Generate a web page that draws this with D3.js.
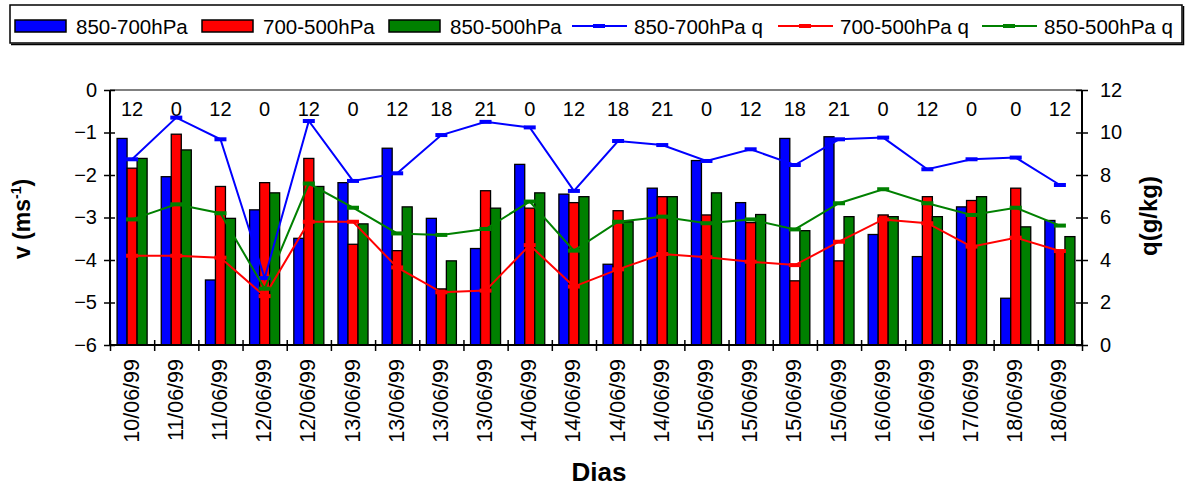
<!DOCTYPE html>
<html>
<head>
<meta charset="utf-8">
<script src="https://cdn.jsdelivr.net/npm/d3@7"></script>
<style>
  body { margin: 0; background: #fff; }
  text { font-family: "Liberation Sans", Arial, sans-serif; }
</style>
</head>
<body>
<div id="chart-area"></div>
<script>
// Data -------------------------------------------------
const dias = ["10/06/99","11/06/99","11/06/99","12/06/99","12/06/99","13/06/99","13/06/99","13/06/99","13/06/99",
  "14/06/99","14/06/99","14/06/99","14/06/99","15/06/99","15/06/99","15/06/99","15/06/99","16/06/99","16/06/99",
  "17/06/99","18/06/99","18/06/99"]
const horas = [12,0,12,0,12,0,12,18,21,0,12,18,21,0,12,18,21,0,12,0,0,12]

// v (ms-1), bars
const v850_700 = [-1.14,-2.04,-4.47,-2.82,-3.49,-2.18,-1.37,-3.02,-3.73,-1.75,-2.45,-4.10,-2.31,-1.66,-2.65,-1.14,-1.10,-3.40,-3.92,-2.75,-4.90,-3.07]
const v700_500 = [-1.84,-1.04,-2.27,-2.18,-1.61,-3.63,-3.78,-4.68,-2.37,-2.78,-2.65,-2.84,-2.51,-2.94,-3.12,-4.49,-4.02,-2.94,-2.51,-2.60,-2.31,-3.80]
const v850_500 = [-1.61,-1.41,-3.02,-2.42,-2.27,-3.15,-2.75,-4.02,-2.78,-2.42,-2.51,-3.10,-2.51,-2.42,-2.93,-3.31,-2.98,-2.98,-2.98,-2.51,-3.22,-3.45]

// q (g/kg), lines
const q850_700 = [8.74,10.70,9.68,3.15,10.54,7.72,8.08,9.88,10.50,10.24,7.25,9.60,9.41,8.66,9.21,8.47,9.68,9.76,8.27,8.74,8.82,7.53]
const q700_500 = [4.20,4.20,4.11,2.30,5.80,5.80,3.65,2.48,2.56,4.70,2.75,3.56,4.28,4.13,3.92,3.76,4.86,5.91,5.73,4.63,5.05,4.42]
const q850_500 = [5.91,6.62,6.20,2.65,7.60,6.46,5.25,5.18,5.46,6.75,4.44,5.80,6.04,5.73,5.91,5.44,6.67,7.33,6.67,6.12,6.46,5.62]

const vTicks = [0,-1,-2,-3,-4,-5,-6]
const qTicks = [0,2,4,6,8,10,12]

const barSeries = [
  {name: "850-700hPa", values: v850_700, color: "#0000ff"},
  {name: "700-500hPa", values: v700_500, color: "#ff0000"},
  {name: "850-500hPa", values: v850_500, color: "#008000"}
]
const lineSeries = [
  {name: "850-700hPa q", values: q850_700, color: "#0000ff"},
  {name: "700-500hPa q", values: q700_500, color: "#ff0000"},
  {name: "850-500hPa q", values: q850_500, color: "#008000"}
]

// Canvas setup -----------------------------------------
const WIDTH = 1190, HEIGHT = 489
const PLOT = {LEFT: 110, RIGHT: 1082, TOP: 90, BOTTOM: 345}

const svg = d3.select("#chart-area").append("svg")
  .attr("width", WIDTH)
  .attr("height", HEIGHT)

// Scales
const x = d3.scaleBand()
  .domain(d3.range(dias.length))
  .range([PLOT.LEFT, PLOT.RIGHT])
  .padding(0)

const x1 = d3.scaleBand()
  .domain(barSeries.map(d => d.name))
  .range([x.bandwidth() * 0.16, x.bandwidth() * 0.84])
  .padding(0)

const yLeft = d3.scaleLinear().domain([-6, 0]).range([PLOT.BOTTOM, PLOT.TOP])
const yRight = d3.scaleLinear().domain([0, 12]).range([PLOT.BOTTOM, PLOT.TOP])

// top border of plot area
svg.append("line")
  .attr("x1", PLOT.LEFT).attr("x2", PLOT.RIGHT)
  .attr("y1", PLOT.TOP).attr("y2", PLOT.TOP)
  .attr("stroke", "#808080").attr("stroke-width", 2)

// Bars ---
const groups = svg.append("g").selectAll("g")
  .data(barSeries)
  .join("g")
    .attr("fill", d => d.color)

groups.selectAll("rect")
  .data(s => s.values.map((v, i) => ({i: i, v: v, name: s.name})))
  .join("rect")
    .attr("x", d => x(d.i) + x1(d.name))
    .attr("y", d => yLeft(d.v))
    .attr("width", x1.bandwidth())
    .attr("height", d => yLeft(-6) - yLeft(d.v))
    .attr("stroke", "black")
    .attr("stroke-width", 1.3)

// Axes ---
const leftAxis = svg.append("g")
  .attr("transform", `translate(${PLOT.LEFT},0)`)
  .call(d3.axisLeft(yLeft).tickValues(vTicks).tickFormat(d3.format("d")).tickSize(5).tickPadding(8))
const rightAxis = svg.append("g")
  .attr("transform", `translate(${PLOT.RIGHT},0)`)
  .call(d3.axisRight(yRight).tickValues(qTicks).tickFormat(d3.format("d")).tickSize(5).tickPadding(13))

const xb = d3.scaleLinear().domain([0, dias.length]).range([PLOT.LEFT, PLOT.RIGHT])
const bottomAxis = svg.append("g")
  .attr("transform", `translate(0,${PLOT.BOTTOM})`)
  .call(d3.axisBottom(xb).tickValues(d3.range(dias.length + 1)).tickFormat("").tickSize(5))

for (const ax of [leftAxis, rightAxis, bottomAxis]) {
  ax.select(".domain").attr("stroke", "black").attr("stroke-width", 2)
  ax.selectAll(".tick line").attr("stroke", "black").attr("stroke-width", 1.5)
  ax.selectAll(".tick text").attr("font-size", "20px").attr("fill", "black")
    .attr("font-family", "Liberation Sans, Arial, sans-serif")
}
// ticks cross the axis
leftAxis.selectAll(".tick line").attr("x1", 5).attr("x2", -6)
rightAxis.selectAll(".tick line").attr("x1", -6).attr("x2", 6)
bottomAxis.selectAll(".tick line").attr("y1", -5).attr("y2", 6)
bottomAxis.select(".domain").attr("d", `M${PLOT.LEFT},0H${PLOT.RIGHT}`)
leftAxis.select(".domain").attr("d", `M0,${PLOT.TOP}V${PLOT.BOTTOM}`)
rightAxis.select(".domain").attr("d", `M0,${PLOT.TOP}V${PLOT.BOTTOM}`)

// Category labels (rotated) ---
svg.append("g").selectAll("text")
  .data(dias)
  .join("text")
    .attr("transform", (d, i) => `translate(${x(i) + x.bandwidth() / 2 - 0.5},359) rotate(-90)`)
    .attr("text-anchor", "end")
    .attr("dominant-baseline", "central")
    .attr("font-size", "21.5px")
    .text(d => d)

// Hour labels at top ---
svg.append("g").selectAll("text")
  .data(horas)
  .join("text")
    .attr("x", (d, i) => x(i) + x.bandwidth() / 2)
    .attr("y", 116)
    .attr("text-anchor", "middle")
    .attr("font-size", "20px")
    .text(d => d)

// Lines (right axis) ---
const line = d3.line()
  .x((d, i) => x(i) + x.bandwidth() / 2)
  .y(d => yRight(d))

const lg = svg.append("g").selectAll("g")
  .data(lineSeries)
  .join("g")

lg.append("path")
  .attr("d", d => line(d.values))
  .attr("fill", "none")
  .attr("stroke", d => d.color)
  .attr("stroke-width", 2)

lg.selectAll("rect")
  .data(s => s.values.map((v, i) => ({i: i, v: v, color: s.color})))
  .join("rect")
    .attr("x", d => x(d.i) + x.bandwidth() / 2 - 6)
    .attr("y", d => yRight(d.v) - 2)
    .attr("width", 12)
    .attr("height", 4)
    .attr("fill", d => d.color)

// Axis titles ---
const vTitle = svg.append("text")
  .attr("transform", "translate(30,219) rotate(-90)")
  .attr("text-anchor", "middle")
  .attr("font-size", "23px")
  .attr("font-weight", "bold")
vTitle.append("tspan").text("v (ms")
vTitle.append("tspan").text("-1").attr("font-size", "14px").attr("dy", -9)
vTitle.append("tspan").text(")").attr("dy", 9)

svg.append("text")
  .attr("transform", "translate(1157,216) rotate(-90)")
  .attr("text-anchor", "middle")
  .attr("font-size", "24px")
  .attr("font-weight", "bold")
  .text("q(g/kg)")

svg.append("text")
  .attr("x", 599)
  .attr("y", 481)
  .attr("text-anchor", "middle")
  .attr("font-size", "26px")
  .attr("font-weight", "bold")
  .text("Dias")

// Legend ---
svg.append("rect")
  .attr("x", 10).attr("y", 5)
  .attr("width", 1172).attr("height", 38)
  .attr("fill", "white")
  .attr("stroke", "black")
  .attr("stroke-width", 1.5)
svg.append("path")
  .attr("d", "M11,44.5H1183.5V6")
  .attr("fill", "none")
  .attr("stroke", "black")
  .attr("stroke-width", 1.5)

const legendBarX = [15, 202, 389]
const legendLineX = [572, 778, 982]
const LEG_Y = 26

barSeries.forEach((s, k) => {
  svg.append("rect")
    .attr("x", legendBarX[k]).attr("y", LEG_Y - 6)
    .attr("width", 51).attr("height", 12)
    .attr("fill", s.color)
    .attr("stroke", "black").attr("stroke-width", 1.5)
  svg.append("text")
    .attr("x", legendBarX[k] + 61).attr("y", LEG_Y)
    .attr("dominant-baseline", "central")
    .attr("font-size", "20.5px")
    .text(s.name)
})

lineSeries.forEach((s, k) => {
  svg.append("line")
    .attr("x1", legendLineX[k]).attr("x2", legendLineX[k] + 55)
    .attr("y1", LEG_Y).attr("y2", LEG_Y)
    .attr("stroke", s.color).attr("stroke-width", 2)
  svg.append("rect")
    .attr("x", legendLineX[k] + 21).attr("y", LEG_Y - 2)
    .attr("width", 12).attr("height", 4)
    .attr("fill", s.color)
  svg.append("text")
    .attr("x", legendLineX[k] + 62).attr("y", LEG_Y)
    .attr("dominant-baseline", "central")
    .attr("font-size", "20.5px")
    .text(s.name)
})
</script>
</body>
</html>
